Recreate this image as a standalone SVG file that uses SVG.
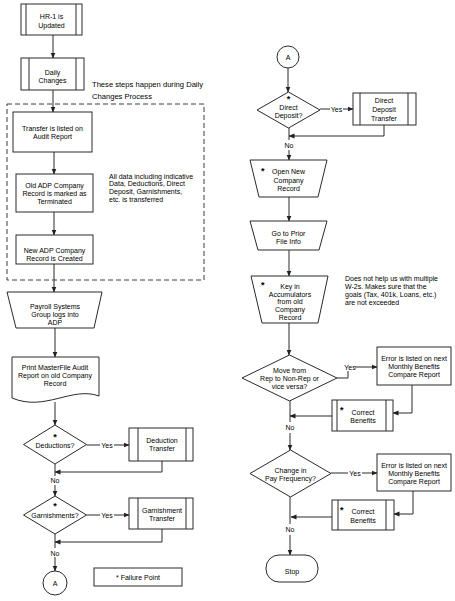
<svg xmlns="http://www.w3.org/2000/svg" width="455" height="601" viewBox="0 0 455 601">
<defs>
<marker id="ah" markerWidth="6" markerHeight="6" refX="5.5" refY="3" orient="auto" markerUnits="userSpaceOnUse">
<path d="M0,0.5 L6,3 L0,5.5 Z" fill="#222"/>
</marker>
<style>
.s{fill:#fff;stroke:#2a2a2a;stroke-width:1}
.l{fill:none;stroke:#2a2a2a;stroke-width:1}
.a{fill:none;stroke:#2a2a2a;stroke-width:1;marker-end:url(#ah)}
.d{fill:none;stroke:#3a3a3a;stroke-width:1;stroke-dasharray:5,3}
text{font-family:"Liberation Sans",Arial,sans-serif;font-size:7px;fill:#000}
.c{text-anchor:middle}
.n{font-size:7.6px}
.k{font-size:9px;font-weight:bold}
</style>
</defs>
<rect width="455" height="601" fill="#fff"/>

<g id="connectors">
<line class="a" x1="53" y1="35" x2="53" y2="58"/>
<line class="a" x1="53" y1="90" x2="53" y2="112"/>
<line class="a" x1="54" y1="152" x2="54" y2="174"/>
<line class="a" x1="54" y1="212" x2="54" y2="235"/>
<line class="a" x1="54" y1="264" x2="54" y2="292"/>
<line class="a" x1="55" y1="328" x2="55" y2="357"/>
<line class="a" x1="55" y1="402" x2="55" y2="425"/>
<line class="l" x1="86.5" y1="445" x2="100" y2="445"/>
<line class="a" x1="114" y1="445" x2="129" y2="445"/>
<polyline class="a" points="162,461 162,472 55,472"/>
<line class="l" x1="55" y1="464" x2="55" y2="476"/>
<line class="a" x1="55" y1="485" x2="55" y2="496"/>
<line class="l" x1="86.5" y1="515" x2="100" y2="515"/>
<line class="a" x1="114" y1="515" x2="129" y2="515"/>
<polyline class="a" points="162,529 162,542 55,542"/>
<line class="l" x1="55" y1="534" x2="55" y2="548"/>
<line class="a" x1="55" y1="557" x2="55" y2="571"/>

<line class="a" x1="288" y1="68" x2="288" y2="92"/>
<line class="l" x1="320" y1="109" x2="330" y2="109"/>
<line class="a" x1="343" y1="109" x2="353" y2="109"/>
<polyline class="a" points="384,125 384,136 289,136"/>
<line class="l" x1="289" y1="128" x2="289" y2="140"/>
<line class="a" x1="289" y1="150" x2="289" y2="160"/>
<line class="a" x1="289" y1="197" x2="289" y2="221"/>
<line class="a" x1="289" y1="250" x2="289" y2="276"/>
<line class="a" x1="289" y1="323" x2="289" y2="355"/>
<polyline class="l" points="337,378 348,378 348,371"/>
<line class="a" x1="355" y1="367" x2="377" y2="367"/>
<polyline class="a" points="412,385 412,413 393,413"/>
<line class="a" x1="332" y1="416" x2="290" y2="416"/>
<line class="l" x1="290" y1="401" x2="290" y2="422"/>
<line class="a" x1="290" y1="433" x2="290" y2="450"/>
<line class="l" x1="331" y1="473" x2="348" y2="473"/>
<line class="a" x1="362" y1="473" x2="377" y2="473"/>
<polyline class="a" points="413,491 413,514 394,514"/>
<line class="a" x1="332" y1="517" x2="291" y2="517"/>
<line class="l" x1="290" y1="497" x2="290" y2="524"/>
<line class="a" x1="290" y1="535" x2="290" y2="555"/>

<text class="c" x="107" y="447.5">Yes</text>
<text class="c" x="55" y="482.5">No</text>
<text class="c" x="107" y="517.5">Yes</text>
<text class="c" x="55" y="555.5">No</text>
<text class="c" x="336.5" y="111.5">Yes</text>
<text class="c" x="289" y="147.5">No</text>
<text class="c" x="350" y="369.5">Yes</text>
<text class="c" x="290" y="429.5">No</text>
<text class="c" x="355" y="475.5">Yes</text>
<text class="c" x="290" y="531.5">No</text>
</g>

<g id="dashed-group">
<rect class="d" x="7" y="104" width="197" height="176"/>
<text class="n" x="92" y="87">These steps happen during Daily</text>
<text class="n" x="92" y="99">Changes Process</text>
</g>

<g id="hr1">
<rect class="s" x="21" y="4" width="61" height="31"/>
<line class="l" x1="26" y1="4" x2="26" y2="35"/>
<line class="l" x1="76" y1="4" x2="76" y2="35"/>
<text class="c" x="51.5" y="18.5">HR-1 is</text>
<text class="c" x="51.5" y="27.5">Updated</text>
</g>

<g id="daily">
<rect class="s" x="21" y="58" width="63" height="32"/>
<line class="l" x1="29" y1="58" x2="29" y2="90"/>
<line class="l" x1="76" y1="58" x2="76" y2="90"/>
<text class="c" x="52.5" y="74.5">Daily</text>
<text class="c" x="52.5" y="82.5">Changes</text>
</g>

<g id="transfer">
<rect class="s" x="13" y="112" width="79" height="40"/>
<text class="c" x="52.5" y="130.5">Transfer is listed on</text>
<text class="c" x="52.5" y="138.5">Audit Report</text>
</g>

<g id="old-adp">
<rect class="s" x="16" y="174" width="77" height="38"/>
<text class="c" x="54.5" y="187.5">Old ADP Company</text>
<text class="c" x="54.5" y="195.5">Record is marked as</text>
<text class="c" x="54.5" y="203.5">Terminated</text>
</g>

<g id="note-data">
<text x="109" y="178.5">All data including indicative</text>
<text x="109" y="186.3">Data, Deductions, Direct</text>
<text x="109" y="194">Deposit, Garnishments,</text>
<text x="109" y="201.8">etc. is transferred</text>
</g>

<g id="new-adp">
<rect class="s" x="16" y="235" width="77" height="29"/>
<text class="c" x="54.5" y="252.5">New  ADP Company</text>
<text class="c" x="54.5" y="260.5">Record is Created</text>
</g>

<g id="payroll">
<polygon class="s" points="7,292 102,292 94,328 16,328"/>
<text class="c" x="55" y="308.5">Payroll Systems</text>
<text class="c" x="55" y="316.5">Group logs into</text>
<text class="c" x="55" y="324.5">ADP</text>
</g>

<g id="print">
<path class="s" d="M12,357 H99 V396 C72,386 45,412 12,398 Z"/>
<text class="c" x="55" y="369.5">Print MasterFile Audit</text>
<text class="c" x="55" y="377.5">Report on old Company</text>
<text class="c" x="55" y="385.5">Record</text>
</g>

<g id="deductions">
<polygon class="s" points="55,425 86.5,444.5 55,464 23.5,444.5"/>
<text class="c k" x="55" y="440">*</text>
<text class="c" x="55" y="447.5">Deductions?</text>
</g>

<g id="deduction-transfer">
<rect class="s" x="129" y="428" width="64" height="33"/>
<line class="l" x1="138" y1="428" x2="138" y2="461"/>
<line class="l" x1="186" y1="428" x2="186" y2="461"/>
<text class="c" x="162" y="442.5">Deduction</text>
<text class="c" x="162" y="450.5">Transfer</text>
</g>

<g id="garnishments">
<polygon class="s" points="55,496 86.5,515 55,534 23.5,515"/>
<text class="c k" x="55" y="508.5">*</text>
<text class="c" x="55" y="517.5">Garnishments?</text>
</g>

<g id="garnishment-transfer">
<rect class="s" x="129" y="498" width="64" height="31"/>
<line class="l" x1="138" y1="498" x2="138" y2="529"/>
<line class="l" x1="186" y1="498" x2="186" y2="529"/>
<text class="c" x="162" y="512.5">Garnishment</text>
<text class="c" x="162" y="520.5">Transfer</text>
</g>

<g id="connector-a-out">
<circle class="s" cx="55" cy="583" r="12"/>
<text class="c" x="55" y="585.5">A</text>
</g>

<g id="failure-legend">
<rect class="s" x="94" y="568" width="88" height="18"/>
<text class="c" x="138" y="579.5">* Failure Point</text>
</g>

<g id="connector-a-in">
<circle class="s" cx="288" cy="57" r="11"/>
<text class="c" x="288" y="59.5">A</text>
</g>

<g id="direct-deposit">
<polygon class="s" points="288.5,92 320,110 288.5,128 257,110"/>
<text class="c k" x="288.5" y="102">*</text>
<text class="c" x="288.5" y="109.5">Direct</text>
<text class="c" x="288.5" y="117.5">Deposit?</text>
</g>

<g id="dd-transfer">
<rect class="s" x="353" y="93" width="63" height="32"/>
<line class="l" x1="360" y1="93" x2="360" y2="125"/>
<line class="l" x1="408" y1="93" x2="408" y2="125"/>
<text class="c" x="384" y="102.5">Direct</text>
<text class="c" x="384" y="111.5">Deposit</text>
<text class="c" x="384" y="120.5">Transfer</text>
</g>

<g id="open-new">
<polygon class="s" points="250,160 327,160 318,197 259,197"/>
<text class="k" x="261" y="174">*</text>
<text class="c" x="288.5" y="174">Open New</text>
<text class="c" x="288.5" y="182.5">Company</text>
<text class="c" x="288.5" y="190.5">Record</text>
</g>

<g id="prior-file">
<polygon class="s" points="250,221 327,221 319,250 258,250"/>
<text class="c" x="288.5" y="235.5">Go to Prior</text>
<text class="c" x="288.5" y="243.5">File Info</text>
</g>

<g id="key-in">
<polygon class="s" points="251,276 328,276 318,323 262,323"/>
<text class="k" x="261" y="288">*</text>
<text class="c" x="290" y="288.5">Key in</text>
<text class="c" x="290" y="296.5">Accumulators</text>
<text class="c" x="290" y="304.3">from old</text>
<text class="c" x="290" y="312">Company</text>
<text class="c" x="290" y="320">Record</text>
</g>

<g id="note-w2">
<text x="345" y="280.5">Does not help us with multiple</text>
<text x="345" y="288.7">W-2s.  Makes sure that the</text>
<text x="345" y="296.9">goals (Tax, 401k, Loans, etc.)</text>
<text x="345" y="305">are not exceeded</text>
</g>

<g id="rep-move">
<polygon class="s" points="289.5,355 337,378 289.5,401 242,378"/>
<text class="c" x="289.5" y="372.5">Move from</text>
<text class="c" x="289.5" y="380.5">Rep to Non-Rep or</text>
<text class="c" x="289.5" y="388.5">vice versa?</text>
</g>

<g id="error-1">
<rect class="s" x="377" y="347" width="74" height="38"/>
<text class="c" x="414" y="360.5">Error is listed on next</text>
<text class="c" x="414" y="368.5">Monthly Benefits</text>
<text class="c" x="414" y="376.5">Compare Report</text>
</g>

<g id="correct-1">
<rect class="s" x="332" y="400" width="61" height="31"/>
<line class="l" x1="337" y1="400" x2="337" y2="431"/>
<line class="l" x1="386" y1="400" x2="386" y2="431"/>
<text class="k" x="340" y="413">*</text>
<text class="c" x="363" y="414.5">Correct</text>
<text class="c" x="363" y="422.5">Benefits</text>
</g>

<g id="pay-freq">
<polygon class="s" points="290.5,450 331,473.5 290.5,497 250,473.5"/>
<text class="c" x="290.5" y="472.5">Change in</text>
<text class="c" x="290.5" y="480.5">Pay Frequency?</text>
</g>

<g id="error-2">
<rect class="s" x="377" y="454" width="74" height="37"/>
<text class="c" x="414" y="467.5">Error is listed on next</text>
<text class="c" x="414" y="475.5">Monthly Benefits</text>
<text class="c" x="414" y="483.5">Compare Report</text>
</g>

<g id="correct-2">
<rect class="s" x="332" y="500" width="62" height="30"/>
<line class="l" x1="338" y1="500" x2="338" y2="530"/>
<line class="l" x1="386" y1="500" x2="386" y2="530"/>
<text class="k" x="340" y="513">*</text>
<text class="c" x="363" y="514">Correct</text>
<text class="c" x="363" y="522.5">Benefits</text>
</g>

<g id="stop">
<rect class="s" x="266" y="555" width="52" height="27" rx="13" ry="13"/>
<text class="c" x="292" y="574">Stop</text>
</g>
</svg>
